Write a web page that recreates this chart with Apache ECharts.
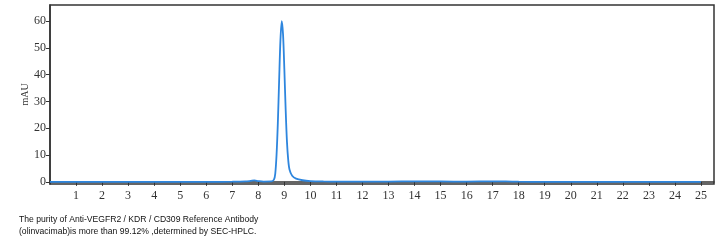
<!DOCTYPE html>
<html><head><meta charset="utf-8">
<script src="https://cdn.jsdelivr.net/npm/echarts@6/dist/echarts.min.js"></script>
<style>html,body{margin:0;padding:0;background:#fff}#c{width:728px;height:242px}</style>
</head><body><div id="c"></div>
<script>
var times = [0, 1, 2, 3, 4, 5, 6, 7, 7.5, 7.7, 7.85, 8.0, 8.2, 8.5, 8.6, 8.65, 8.7, 8.75, 8.8, 8.85, 8.9, 8.95, 9.0, 9.05, 9.1, 9.15, 9.2, 9.3, 9.45, 9.7, 10.0, 10.5, 11, 12, 13, 14, 15, 16, 17, 17.5, 18, 19, 20, 21, 22, 23, 24, 25];
var mAU = [0, 0, 0, 0, 0, 0, 0, 0.05, 0.15, 0.35, 0.55, 0.3, 0.1, 0.15, 0.8, 3, 10, 22, 38, 53, 60, 55, 42, 27, 15, 8, 4.5, 2.3, 1.2, 0.6, 0.3, 0.15, 0.1, 0.1, 0.1, 0.2, 0.15, 0.1, 0.2, 0.15, 0.05, 0, 0, 0, 0, 0, 0, 0];
var xTicks = [1,2,3,4,5,6,7,8,9,10,11,12,13,14,15,16,17,18,19,20,21,22,23,24,25];
var yTicks = [0,10,20,30,40,50,60];
var caption = "The purity of Anti-VEGFR2 / KDR / CD309 Reference Antibody\n(olinvacimab)is more than 99.12% ,determined by SEC-HPLC.";

var data = times.map(function(t,i){return [t, mAU[i]];});
var chart = echarts.init(document.getElementById('c'), null, {renderer:'canvas'});
var font = "'Liberation Serif', serif";
chart.setOption({
  animation:false,
  grid:{left:50, top:5, right:14, bottom:58, show:true, borderColor:'#333', borderWidth:1.5},
  title:{text:caption, left:14, top:209, textStyle:{fontSize:8.6, fontWeight:'normal', color:'#111', fontFamily:"'Liberation Sans', sans-serif", lineHeight:11.5}},
  xAxis:{type:'value', min:0, max:25.5,
    axisLine:{show:true, lineStyle:{color:'#333', width:1.5}},
    axisTick:{show:true, length:4, customValues:xTicks, lineStyle:{color:'#333'}},
    axisLabel:{customValues:xTicks, color:'#333', fontSize:12, fontFamily:font, margin:6},
    splitLine:{show:false}},
  yAxis:{type:'value', min:-0.8, max:66, name:'mAU', nameLocation:'middle', nameGap:20, nameMoveOverlap:false,
    nameTextStyle:{fontFamily:font, fontSize:10, color:'#333'},
    axisLine:{show:true, lineStyle:{color:'#333', width:1.5}},
    axisTick:{show:true, length:4, customValues:yTicks, lineStyle:{color:'#333'}},
    axisLabel:{customValues:yTicks, color:'#333', fontSize:12, fontFamily:font, margin:4},
    splitLine:{show:false}},
  series:[{type:'line', data:data, smooth:0.3, showSymbol:false, symbol:'none',
    lineStyle:{color:'#2e86de', width:1.8}}]
});
</script></body></html>
